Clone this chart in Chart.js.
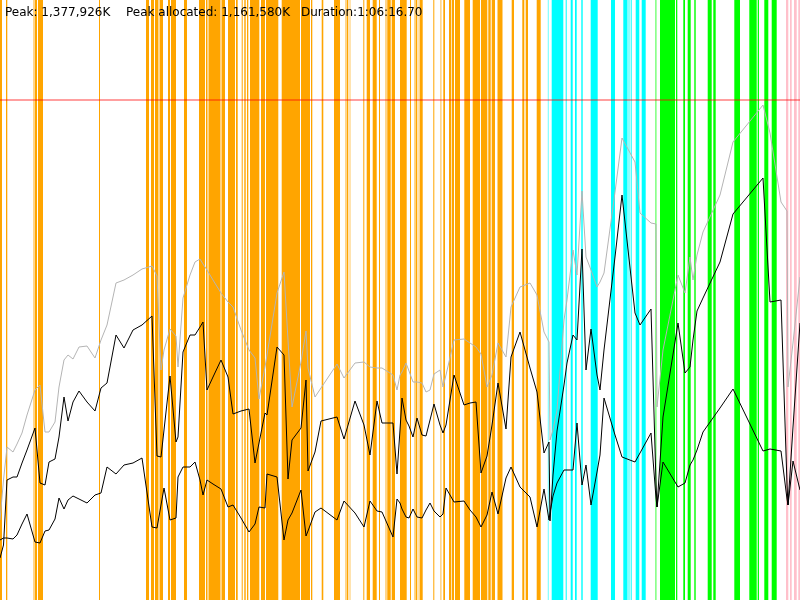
<!DOCTYPE html>
<html>
<head>
<meta charset="utf-8">
<title>Memory profile</title>
<script src="https://cdn.jsdelivr.net/npm/chart.js@4.4.1/dist/chart.umd.min.js"></script>
<style>
  body { margin: 0; background: #fff; }
  #wrap { position: relative; width: 800px; height: 600px; }
  #info { position: absolute; left: 0; top: 0; width: 800px; font: 12px "DejaVu Sans", sans-serif; color: #000; }
  #info span { position: absolute; top: 5px; white-space: nowrap; }
</style>
</head>
<body>
<div id="wrap">
  <canvas id="memChart" width="800" height="600"></canvas>
  <div id="info">
    <span style="left:5px">Peak: 1,377,926K</span>
    <span style="left:126px">Peak allocated: 1,161,580K</span>
    <span style="left:301px">Duration:1:06:16.70</span>
  </div>
</div>
<script>
// timeline runs 0..800 over the whole run, memory in chart units (peak = 500)
const PEAK = 500;

const sampleTime = [0,3.5,7,13,17,22,27,35,40,45,49,55,59,64,68,73,79,87,95,101,107,116,124,133,142,152,157,161,164,170,176,178,183,190,195,200,
  203,207,213,221,228,233,241,249,255,259,265,267,277,284,288,292,301,306,308,315,321,337,344,355,364,370,377,382,393,397,400,
  402,406,409,413,417,422,426,430,434,440,443,446,454,464,470,476,481,487,492,498,506,511,520,530,537,544,549,550,553,557,564,567,573,577,582,586,591,597,600,
  604,615,622,635,640,651,656,657,663,678,685,690,693,697,703,720,733,763,770,781,787,788,793,800];

// total memory (grey)
const totalMem = [80,120,153,148,156,167,185,210,215,168,168,178,213,240,245,241,253,254,242,260,275,317,320,325,331,334,324,230,250,271,264,233,302,325,338,341,
  336,330,320,307,298,293,270,250,242,201,233,245,307,328,260,193,238,269,232,203,212,236,222,237,238,233,232,232,225,210,225,
  228,237,229,218,218,217,208,210,226,230,213,225,260,261,257,253,246,213,225,257,243,293,313,317,305,268,258,160,170,190,280,300,350,325,409,343,330,313,318,
  327,408,462,438,387,377,376,193,250,325,307,343,320,345,368,405,458,495,467,398,389,213,257,323];

// allocated (upper black)
const allocMem = [42,55,120,123,123,137,150,172,117,115,138,141,163,203,179,198,209,198,189,212,217,265,252,270,275,284,144,143,170,224,158,163,248,265,265,273,
  278,210,223,240,223,186,189,191,137,157,187,185,253,245,121,160,172,220,129,148,179,183,161,199,175,145,199,177,177,126,170,
  202,180,174,163,182,165,164,180,196,175,167,175,225,195,197,198,127,144,175,217,171,243,268,232,208,147,158,79,125,169,215,237,265,260,351,230,271,225,210,
  250,343,405,287,275,291,117,93,183,277,227,233,260,289,302,338,386,422,298,300,116,95,173,277];

// live after gc (lower black)
const liveMem = [60,62,62,61,65,76,86,58,57,69,70,81,102,91,100,104,101,97,105,107,133,126,135,137,142,73,72,95,112,80,82,123,133,133,138,120,
  105,120,116,111,93,95,82,68,76,93,92,126,123,60,80,87,110,64,69,88,92,80,99,87,73,99,89,88,63,101,97,
  91,83,82,91,83,82,90,97,89,83,86,112,98,99,90,83,73,85,108,86,122,133,113,103,73,111,80,87,104,117,130,130,130,177,115,135,95,128,145,
  202,165,143,138,147,167,102,93,138,113,117,135,140,150,168,192,211,149,151,149,101,95,139,110];

// phase bands [start, end] on the same timeline
const orangeBands = [[0,2],[6,7.3],[35,37],[38,43],[99,100],[146,149],[151,154],[155,158],[160,163],[168,170],[171,176],[184,187],
  [199,205],[206,207.5],[208.5,220.5],[221.5,225],[228,235],[236,237.7],[241.7,242.7],[244.3,245.7],[247,248.3],[250,259.3],[261,265],
  [266,278.3],[281.7,300],[301,310],[311,312.3],[321.7,323.3],[334,340],[347,348.3],[363.3,364.3],[366.7,370],[372.7,376.7],[379,380],
  [387.3,390.7],[391.7,395],[400,406.7],[410,411],[415.7,417.3],[420,422.7],[433.3,434.3],[443.3,445],[449,451],[451.7,454],[455,460],
  [464.3,470],[472.7,480],[481,487.3],[488.3,490.7],[491.7,495],[497.5,502.5],[511.7,514],[522.3,524.3],[525.7,528],[536.7,540.7]];
const orangeFaint = [[33,35],[158,160],[345,347],[349.3,350.7],[385,387.3],[414,415.7],[418.3,420],[440,441.7]];
const cyanBands = [[551.7,563.3],[565.7,566.7],[570.7,572.7],[575,576.7],[581.3,582.7],[590.7,597.7],[611,615],[623.3,627.3],
  [630.7,631.7],[635.7,639.3],[641.7,645.7]];
const cyanFaint = [[547.7,549],[627.3,630]];
const greenBands = [[660,675],[676,677.3],[683.3,685],[687.7,690.7],[694.3,695.7],[707.7,711.7],[713.3,715.7],[734.3,740],
  [749.3,756.7],[757.7,759],[764.3,768.3],[771.7,776.7]];
const greenFaint = [[655,656.7]];
const pinkBands = [[786,788.3],[790,791.7],[794,796.7],[798.3,800]];

const bandGroups = [
  { bands: orangeBands, color: '#ffa500' },
  { bands: orangeFaint, color: 'rgba(255,165,0,0.45)' },
  { bands: cyanBands, color: '#00ffff' },
  { bands: cyanFaint, color: 'rgba(0,255,255,0.45)' },
  { bands: greenBands, color: '#00ff00' },
  { bands: greenFaint, color: 'rgba(0,255,0,0.45)' },
  { bands: pinkBands, color: '#ffc0cb' }
];

const bandsPlugin = {
  id: 'bands',
  beforeDatasetsDraw(chart) {
    const { ctx, chartArea, scales } = chart;
    ctx.save();
    bandGroups.forEach(g => {
      ctx.fillStyle = g.color;
      g.bands.forEach(([a, b]) => {
        const x0 = scales.x.getPixelForValue(a);
        const x1 = scales.x.getPixelForValue(b);
        ctx.fillRect(x0, chartArea.top, x1 - x0, chartArea.bottom - chartArea.top);
      });
    });
    ctx.restore();
  }
};

function series(values) {
  return sampleTime.map((t, i) => ({ x: t, y: values[i] }));
}

const ctx = document.getElementById('memChart').getContext('2d');
const memChart = new Chart(ctx, {
  type: 'line',
  data: {
    datasets: [
      { label: 'Live', data: series(liveMem), borderColor: '#000', borderWidth: 1 },
      { label: 'Allocated', data: series(allocMem), borderColor: '#000', borderWidth: 1 },
      { label: 'Total', data: series(totalMem), borderColor: '#b4b4b4', borderWidth: 1 },
      { label: 'Peak', data: [{ x: 0, y: PEAK }, { x: 800, y: PEAK }], borderColor: 'rgba(255,0,0,0.75)', borderWidth: 1.2 }
    ]
  },
  options: {
    responsive: false,
    animation: false,
    layout: { padding: 0 },
    elements: { point: { radius: 0 }, line: { tension: 0 } },
    plugins: { legend: { display: false }, tooltip: { enabled: false } },
    scales: {
      x: { type: 'linear', min: 0, max: 800, display: false },
      y: { min: 0, max: 600, display: false }
    }
  },
  plugins: [bandsPlugin]
});
</script>
</body>
</html>
